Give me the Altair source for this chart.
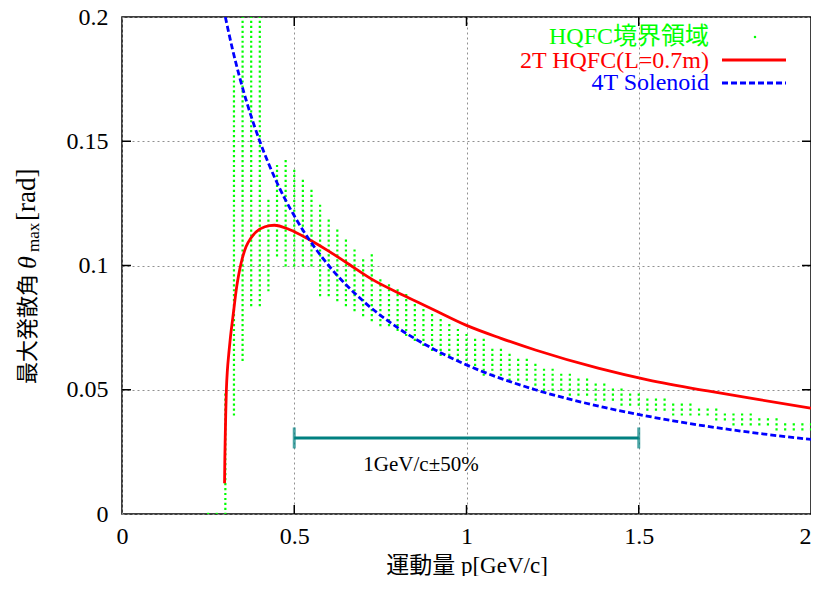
import altair as alt
import pandas as pd

# ---------------- data ----------------
dot_p = [0.25, 0.275, 0.3, 0.325, 0.35, 0.375, 0.4, 0.425, 0.45, 0.475, 0.5, 0.525, 0.55,
         0.575, 0.6, 0.625, 0.65, 0.675, 0.7, 0.725, 0.75, 0.775, 0.8, 0.825, 0.85, 0.875,
         0.9, 0.925, 0.95, 0.975, 1.0, 1.025, 1.05, 1.075, 1.1, 1.125, 1.15, 1.175, 1.2,
         1.225, 1.25, 1.275, 1.3, 1.325, 1.35, 1.375, 1.4, 1.425, 1.45, 1.475, 1.5, 1.525,
         1.55, 1.575, 1.6, 1.625, 1.65, 1.675, 1.7, 1.725, 1.75, 1.775, 1.8, 1.825, 1.85,
         1.875, 1.9, 1.925, 1.95, 1.975, 2.0]
dot_lo = [0.0, 0.0, 0.0, 0.040, 0.062, 0.084, 0.084, 0.090, 0.104, 0.100, 0.100, 0.100, 0.100,
          0.088, 0.088, 0.086, 0.084, 0.082, 0.080, 0.078, 0.076, 0.076, 0.074, 0.072, 0.070, 0.068,
          0.066, 0.064, 0.064, 0.062, 0.062, 0.060, 0.056, 0.056, 0.056, 0.054, 0.054, 0.054, 0.052,
          0.050, 0.050, 0.050, 0.048, 0.048, 0.048, 0.046, 0.046, 0.046, 0.044, 0.044, 0.044, 0.042,
          0.042, 0.042, 0.040, 0.040, 0.040, 0.040, 0.040, 0.038, 0.038, 0.036, 0.036, 0.036, 0.036,
          0.036, 0.034, 0.034, 0.034, 0.034, 0.034]
dot_hi = [0.0, 0.0, 0.048, 0.176, 0.200, 0.200, 0.200, 0.126, 0.140, 0.142, 0.138, 0.134, 0.130,
          0.124, 0.118, 0.114, 0.110, 0.106, 0.102, 0.104, 0.094, 0.092, 0.090, 0.088, 0.084, 0.082,
          0.080, 0.078, 0.076, 0.074, 0.072, 0.070, 0.070, 0.066, 0.066, 0.064, 0.062, 0.062, 0.060,
          0.058, 0.058, 0.056, 0.056, 0.054, 0.054, 0.052, 0.052, 0.050, 0.050, 0.048, 0.048, 0.046,
          0.046, 0.046, 0.044, 0.044, 0.044, 0.042, 0.042, 0.042, 0.040, 0.040, 0.040, 0.040, 0.038,
          0.038, 0.038, 0.036, 0.036, 0.036, 0.036]

red_p = [0.2977, 0.2985, 0.2997, 0.3012, 0.303, 0.306, 0.310, 0.315, 0.3217, 0.333, 0.339,
         0.3467, 0.36, 0.375, 0.389, 0.415, 0.442, 0.4855, 0.543, 0.6, 0.65, 0.726, 0.823,
         0.9, 1.0, 1.1, 1.2, 1.382, 1.526, 1.7, 1.85, 2.0]
red_theta = [0.0124, 0.022, 0.031, 0.041, 0.050, 0.058, 0.0645, 0.0715, 0.079, 0.0915, 0.0965,
             0.1015, 0.1075, 0.1112, 0.1135, 0.1156, 0.1162, 0.1145, 0.1105, 0.1058, 0.1013,
             0.0944, 0.0876, 0.0825, 0.0759, 0.0707, 0.0660, 0.0587, 0.0540, 0.0495, 0.0460,
             0.0426]

blue_p = [0.3, 0.32, 0.34, 0.36, 0.38, 0.4, 0.45, 0.5, 0.55, 0.6, 0.7, 0.8, 0.9, 1.0,
          1.2, 1.4, 1.6, 1.8, 2.0]
blue_theta = [0.200, 0.1875, 0.1765, 0.1667, 0.1579, 0.150, 0.1333, 0.120, 0.1091, 0.100,
              0.0857, 0.075, 0.0667, 0.060, 0.050, 0.0429, 0.0375, 0.0333, 0.030]

x_ticks = [0, 0.5, 1, 1.5, 2]
y_ticks = [0, 0.05, 0.1, 0.15, 0.2]
x_inner_ticks = [0.5, 1, 1.5]
y_inner_ticks = [0.05, 0.1, 0.15]

bracket_p = [0.5, 1.5]
bracket_theta = 0.0306
bracket_label = "1GeV/c±50%"

legend_labels = ["HQFC境界領域", "2T HQFC(L=0.7m)", "4T Solenoid"]
x_title = "運動量 p[GeV/c]"
y_title_parts = ["最大発散角", "θ", "max", "[rad]"]

# ---------------- styling ----------------
W, H = 689, 497
SERIF = "Liberation Serif, Noto Sans CJK JP"
GREEN, RED, BLUE, TEAL = "#00ff00", "#ff0000", "#0000ff", "#008080"

xs = alt.Scale(domain=[0, 2], nice=False, zero=False)
ys = alt.Scale(domain=[0, 0.2], nice=False, zero=False)

X = alt.X("p:Q", scale=xs, axis=alt.Axis(
    values=x_ticks, format="~g", title=x_title, titleFont=SERIF, titleFontSize=23,
    titleFontWeight="normal", labelPadding=10, labelFlush=False, titlePadding=6,
    labelAlign={"condition": {"test": "datum.value >= 2", "value": "right"}, "value": "center"}))
Y = alt.Y("theta:Q", scale=ys, axis=alt.Axis(values=y_ticks, format="~g", title=None,
                                              labelPadding=14))

dots_df = pd.DataFrame({"p": dot_p, "theta": dot_lo, "theta2": dot_hi})
red_df = pd.DataFrame({"p": red_p, "theta": red_theta})
blue_df = pd.DataFrame({"p": blue_p, "theta": blue_theta})
one = pd.DataFrame({"k": [0]})

dots = alt.Chart(dots_df).mark_rule(
    color=GREEN, strokeWidth=2.2, strokeDash=[2.2, 2.77], yOffset=1, y2Offset=-2, clip=True
).encode(x=X, y=Y, y2="theta2:Q")

red = alt.Chart(red_df).mark_line(color=RED, strokeWidth=2.8, interpolate="monotone",
                                  clip=True).encode(x=X, y=Y)
blue = alt.Chart(blue_df).mark_line(color=BLUE, strokeWidth=2.8, strokeDash=[6, 3],
                                    interpolate="monotone", clip=True).encode(x=X, y=Y)

br_df = pd.DataFrame({"p": [bracket_p[0]], "p2": [bracket_p[1]], "theta": [bracket_theta]})
bracket = alt.Chart(br_df).mark_rule(color=TEAL, strokeWidth=3).encode(x=X, x2="p2:Q", y=Y)
caps_df = pd.DataFrame({"p": bracket_p, "theta": [bracket_theta] * 2})
caps = alt.Chart(caps_df).mark_tick(color=TEAL, orient="vertical", size=21,
                                    thickness=3).encode(x=X, y=Y)
br_text = alt.Chart(pd.DataFrame({"t": [bracket_label]})).mark_text(
    font="Liberation Serif", fontSize=21, align="center", baseline="middle", color="black"
).encode(text="t:N", x=alt.value(299), y=alt.value(448))

# inward ticks
xt_df = pd.DataFrame({"p": x_inner_ticks})
yt_df = pd.DataFrame({"theta": y_inner_ticks})
tb = alt.Chart(xt_df).mark_rule(color="black", strokeWidth=1.5).encode(
    x=X, y=alt.value(H), y2=alt.value(H - 9))
tt = alt.Chart(xt_df).mark_rule(color="black", strokeWidth=1.5).encode(
    x=X, y=alt.value(0), y2=alt.value(9))
tl = alt.Chart(yt_df).mark_rule(color="black", strokeWidth=1.5).encode(
    y=Y, x=alt.value(0), x2=alt.value(9))
tr = alt.Chart(yt_df).mark_rule(color="black", strokeWidth=1.5).encode(
    y=Y, x=alt.value(W - 9), x2=alt.value(W))

# legend
leg_layers = []
leg_colors = [GREEN, RED, BLUE]
leg_y = [20, 44, 66]
for lab, col, yy in zip(legend_labels, leg_colors, leg_y):
    leg_layers.append(
        alt.Chart(pd.DataFrame({"t": [lab]})).mark_text(
            font=SERIF, fontSize=24, align="right", baseline="middle", color=col
        ).encode(text="t:N", x=alt.value(587), y=alt.value(yy)))
leg_layers.append(alt.Chart(one).mark_square(color=GREEN, size=5, opacity=1).encode(
    x=alt.value(633), y=alt.value(20)))
leg_layers.append(alt.Chart(one).mark_rule(color=RED, strokeWidth=2.8).encode(
    x=alt.value(600), x2=alt.value(664), y=alt.value(43)))
leg_layers.append(alt.Chart(one).mark_rule(color=BLUE, strokeWidth=2.8, strokeDash=[6, 3]).encode(
    x=alt.value(600), x2=alt.value(664), y=alt.value(66)))

# y title pieces (rotated)
yt_layers = []
yt_specs = [
    (y_title_parts[0], "Noto Sans CJK JP", 22, "normal", -94, 367),
    (y_title_parts[1], "Liberation Serif", 26, "italic", -94, 252),
    (y_title_parts[2], "Liberation Serif", 17, "normal", -88, 235),
    (y_title_parts[3], "Liberation Serif", 27, "normal", -95, 204),
]
for txt, fnt, fs, sty, xx, yy in yt_specs:
    yt_layers.append(
        alt.Chart(pd.DataFrame({"t": [txt]})).mark_text(
            font=fnt, fontSize=fs, fontStyle=sty, angle=270, align="left",
            baseline="middle", color="black"
        ).encode(text="t:N", x=alt.value(xx), y=alt.value(yy)))

chart = alt.layer(
    dots, red, blue, bracket, caps, br_text, tb, tt, tl, tr, *leg_layers, *yt_layers
).properties(
    width=W, height=H,
    autosize=alt.AutoSizeParams(type="none"),
    padding={"left": 114, "top": 9, "right": 0, "bottom": 62},
).configure_view(
    stroke="black", strokeWidth=1.5
).configure_axis(
    domain=False, ticks=False, grid=True, gridColor="#909090", gridDash=[2, 3],
    gridWidth=1, labelFont="Liberation Serif", labelFontSize=24, labelColor="black",
    titleColor="black"
)

chart.save("out.html", embed_options={"renderer": "svg", "actions": False})
